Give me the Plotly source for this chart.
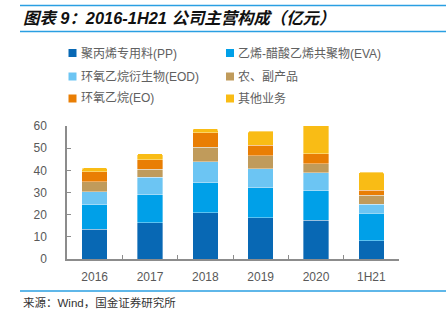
import plotly.graph_objects as go

categories = ["2016", "2017", "2018", "2019", "2020", "1H21"]
series_names = ["聚丙烯专用料(PP)", "乙烯-醋酸乙烯共聚物(EVA)", "环氧乙烷衍生物(EOD)",
                "农、副产品", "环氧乙烷(EO)", "其他业务"]
pp = [13.5, 16.3, 20.8, 18.6, 17.4, 8.2]
eva = [10.9, 12.6, 13.5, 13.6, 13.5, 12.5]
eod = [6.0, 8.0, 9.5, 8.6, 7.9, 3.9]
agri = [4.4, 3.7, 6.7, 5.7, 4.2, 4.2]
eo = [4.5, 4.2, 6.5, 4.9, 4.4, 2.2]
other = [1.8, 2.7, 1.8, 6.3, 12.9, 8.1]
y_ticks = [0, 10, 20, 30, 40, 50, 60]

title_text = "图表 9：2016-1H21 公司主营构成（亿元）"
source_text = "来源：Wind，国金证券研究所"

colors = ["#0868b4", "#00a0e8", "#6cc5f3", "#c09b5b", "#e97e04", "#f9bc15"]
values = [pp, eva, eod, agri, eo, other]

fig = go.Figure()
for name, vals, col in zip(series_names, values, colors):
    fig.add_trace(go.Bar(
        x=categories, y=vals, name=name, showlegend=False,
        marker=dict(color=col, line=dict(color="rgba(255,255,255,0.45)", width=0.8)),
    ))

font_main = "Liberation Sans, Arial, Noto Sans CJK SC, sans-serif"

# manual legend (2 columns x 3 rows)
leg_cols_x = [68.5, 226]
leg_rows_y = [53, 76.5, 98.5]
for i, (name, col) in enumerate(zip(series_names, colors)):
    cx = leg_cols_x[i % 2]
    cy = leg_rows_y[i // 2]
    fig.add_shape(type="rect", xref="paper", yref="paper",
                  x0=(cx - 67) / 332, x1=(cx + 8 - 67) / 332,
                  y0=(259 - (cy + 4)) / 133, y1=(259 - (cy - 4)) / 133,
                  fillcolor=col, line=dict(width=0))
    fig.add_annotation(xref="paper", yref="paper",
                       x=(cx + 10 - 67) / 332, y=(259 - cy) / 133,
                       xanchor="left", yanchor="middle", showarrow=False,
                       text=name, font=dict(size=12, color="#606060", family=font_main))

# title and source
fig.add_annotation(xref="paper", yref="paper", x=(21 - 67) / 332, y=(259 - 18) / 133,
                   xanchor="left", yanchor="middle", showarrow=False,
                   text="<b><i>" + title_text + "</i></b>",
                   font=dict(size=16.4, color="#111111", family=font_main))
fig.add_annotation(xref="paper", yref="paper", x=(21 - 67) / 332, y=(259 - 302) / 133,
                   xanchor="left", yanchor="middle", showarrow=False,
                   text=source_text,
                   font=dict(size=11.5, color="#333333", family=font_main))
for yy in [5.5, 31.5, 291]:
    fig.add_shape(type="line", xref="paper", yref="paper",
                  x0=(20 - 67) / 332, x1=(446 - 67) / 332,
                  y0=(259 - yy) / 133, y1=(259 - yy) / 133,
                  line=dict(color="#2a9fe2", width=1.6))

fig.update_layout(
    width=448, height=321,
    margin=dict(l=67, r=49, t=126, b=62),
    barmode="stack", bargap=0.54, barcornerradius=2,
    plot_bgcolor="white", paper_bgcolor="white",
    font=dict(family=font_main, size=12, color="#595959"),
    xaxis=dict(showline=True, linecolor="#8c8c8c", linewidth=1.5,
               ticks="inside", tickson="boundaries", ticklen=4, tickcolor="#8c8c8c",
               tickwidth=1.2, showgrid=False, ticklabelstandoff=6,
               tickfont=dict(size=12, color="#595959")),
    yaxis=dict(range=[0, 60], tickvals=y_ticks, showline=True, linecolor="#8c8c8c",
               linewidth=1.5, ticks="inside", ticklen=4, tickcolor="#8c8c8c",
               tickwidth=1.2, showgrid=False, zeroline=False, ticklabelstandoff=16,
               tickfont=dict(size=12, color="#595959")),
)

fig.write_html("out.html")
